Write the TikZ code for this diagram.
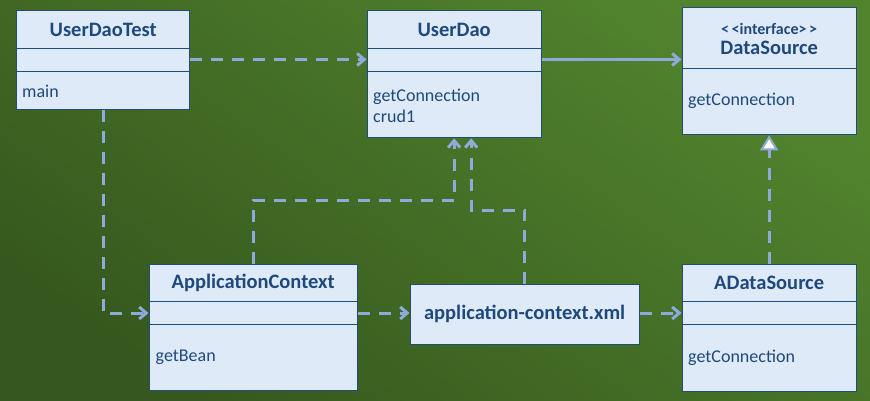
\documentclass[tikz,border=0pt]{standalone}
\usepackage{fontspec}
\setmainfont{Carlito}
\usetikzlibrary{arrows.meta}
\definecolor{bgdark}{RGB}{54,88,30}
\definecolor{bglight}{RGB}{82,132,46}
\definecolor{boxfill}{RGB}{222,234,247}
\definecolor{boxline}{RGB}{31,78,121}
\definecolor{boxtext}{RGB}{31,73,125}
\definecolor{linkcol}{RGB}{142,170,219}
\begin{document}
\begin{tikzpicture}[x=1pt,y=-1pt,line join=miter,>={Straight Barb[length=7pt,width=12pt]}]
			\tikzset{cls/.style={draw=boxline,fill=boxfill,line width=1.3pt,inner sep=0pt,anchor=north west},
				clsname/.style={font=\bfseries\fontsize{20.5}{24}\selectfont,text=boxtext},
				meth/.style={font=\fontsize{18}{21}\selectfont,text=boxtext,align=left,anchor=west,inner sep=0pt},
				dep/.style={draw=linkcol,line width=3pt,dash pattern=on 12pt off 9pt,->},
				assoc/.style={draw=linkcol,line width=3pt,->},
				real/.style={draw=linkcol,line width=3pt,dash pattern=on 12pt off 9pt,-{Triangle[open,fill=white,length=15pt,width=18pt,line width=2pt]}}}
			\useasboundingbox (0,0) rectangle (870,401);
			\shade[bottom color=bgdark,top color=bglight,shading angle=-35] (0,0) rectangle (870,401);
			\node[cls,minimum width=173pt,minimum height=99pt] (test) at (16,10) {};
			\node[cls,minimum width=174pt,minimum height=127pt] (dao) at (366.5,10) {};
			\node[cls,minimum width=174pt,minimum height=127pt] (ds) at (681.5,7) {};
			\node[cls,minimum width=208pt,minimum height=126.5pt] (ctx) at (148.5,263.5) {};
			\node[cls,clsname,minimum width=229pt,minimum height=59.5pt] (xml) at (409.5,284) {application-context.xml};
			\node[cls,minimum width=174pt,minimum height=127pt] (ads) at (681.5,263.5) {};
			\foreach \n/\a/\b in {test/48.5/71.5,dao/48.5/71.5,ctx/301.5/324.5,ads/301.5/324.5}
			\draw[boxline,line width=1.3pt] (\n.west |- 0,\a)--(\n.east |- 0,\a) (\n.west |- 0,\b)--(\n.east |- 0,\b);
			\draw[boxline,line width=1.3pt] (ds.west |- 0,68.5)--(ds.east |- 0,68.5);
			\node[clsname] (testT) at (test.north |- 0,29.5) {UserDaoTest};
			\node[clsname] (daoT) at (dao.north |- 0,29.5) {UserDao};
			\node[clsname,font=\bfseries\fontsize{16}{19}\selectfont] (dsS) at (ds.north |- 0,28.5) {<\,<interface>\,>};
			\node[clsname] (dsT) at (ds.north |- 0,48) {DataSource};
			\node[clsname] (ctxT) at (ctx.north |- 0,282.5) {ApplicationContext};
			\node[clsname] (adsT) at (ads.north |- 0,282.5) {ADataSource};
			\node[meth] (testM) at (22,91) {main};
			\node[meth] (daoM) at (373,105.5) {getConnection\\crud1};
			\node[meth] (dsM) at (688,101) {getConnection};
			\node[meth] (ctxM) at (155.5,357.5) {getBean};
			\node[meth] (adsM) at (688,357.5) {getConnection};
			\draw[dep] (test.east |- 0,59.5)--(dao.west |- 0,59.5);
			\draw[assoc] (dao.east |- 0,59.5)--(ds.west |- 0,59.5);
			\draw[dep] (test.south) |- (ctx.west |- 0,313);
			\draw[dep] (ctx.east |- 0,313)--(xml.west |- 0,313);
			\draw[dep] (xml.east |- 0,313)--(ads.west |- 0,313);
			\draw[real] (ads.north)--(ds.south);
			\draw[dep] (ctx.north)--++(0,-63.5) -| (dao.south);
			\draw[dep] (xml.north)--++(0,-74) -| ([xshift=17pt]dao.south);
			\end{tikzpicture}
\end{document}
